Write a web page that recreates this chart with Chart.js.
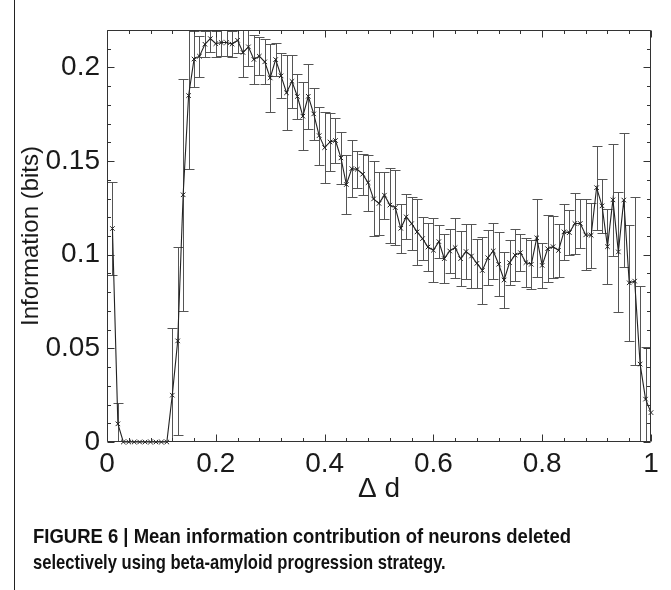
<!DOCTYPE html>
<html>
<head>
<meta charset="utf-8">
<script src="https://cdn.jsdelivr.net/npm/chart.js@4.4.1/dist/chart.umd.min.js"></script>
<style>
  html, body { margin: 0; padding: 0; background: #fff; }
  #wrap { position: relative; width: 671px; height: 590px; overflow: hidden; background: #fff; }
  #c { position: absolute; left: 0; top: 0; }
  #frame { position: absolute; left: 14px; top: 0; width: 1px; height: 590px; background: #222; }
  .cap { position: absolute; left: 33px; font-family: 'Liberation Sans', Arial, sans-serif; font-weight: bold; font-size: 21px; line-height: 26px; color: #111; white-space: nowrap; transform-origin: 0 50%; }
  #cap1 { top: 523px; transform: scaleX(0.88); }
  #cap2 { top: 549px; transform: scaleX(0.79); }
</style>
</head>
<body>
<div id="wrap">
  <canvas id="c" width="671" height="590"></canvas>
  <div id="frame"></div>
  <div class="cap" id="cap1">FIGURE 6 | Mean information contribution of neurons deleted</div>
  <div class="cap" id="cap2">selectively using beta-amyloid progression strategy.</div>
</div>
<script>
const deltaD = [0.01,0.02,0.03,0.04,0.05,0.06,0.07,0.08,0.09,0.10,
  0.11,0.12,0.13,0.14,0.15,0.16,0.17,0.18,0.19,0.20,
  0.21,0.22,0.23,0.24,0.25,0.26,0.27,0.28,0.29,0.30,
  0.31,0.32,0.33,0.34,0.35,0.36,0.37,0.38,0.39,0.40,
  0.41,0.42,0.43,0.44,0.45,0.46,0.47,0.48,0.49,0.50,
  0.51,0.52,0.53,0.54,0.55,0.56,0.57,0.58,0.59,0.60,
  0.61,0.62,0.63,0.64,0.65,0.66,0.67,0.68,0.69,0.70,
  0.71,0.72,0.73,0.74,0.75,0.76,0.77,0.78,0.79,0.80,
  0.81,0.82,0.83,0.84,0.85,0.86,0.87,0.88,0.89,0.90,
  0.91,0.92,0.93,0.94,0.95,0.96,0.97,0.98,0.99,1.00];

const info = [0.114,0.0097,0,0,0,0,0,0,0,0,
  0,0.025,0.054,0.132,0.185,0.2045,0.206,0.2124,0.2154,0.2127,
  0.2133,0.2133,0.2125,0.2145,0.208,0.211,0.2043,0.206,0.203,0.1944,
  0.2042,0.1955,0.1865,0.1926,0.1845,0.174,0.1846,0.1752,0.1636,0.1572,
  0.1602,0.161,0.1517,0.1375,0.146,0.1456,0.143,0.1385,0.1298,0.1274,
  0.1318,0.1265,0.1252,0.1141,0.1202,0.1166,0.1122,0.1086,0.1041,0.1024,
  0.107,0.0979,0.102,0.1038,0.0979,0.1017,0.0993,0.0954,0.0916,0.0984,
  0.102,0.0949,0.0865,0.0958,0.0998,0.1011,0.0958,0.0949,0.109,0.0943,
  0.1032,0.1043,0.1023,0.1122,0.1118,0.1167,0.1167,0.1106,0.1104,0.1358,
  0.1261,0.1043,0.1293,0.1015,0.1292,0.085,0.0859,0.0416,0.0229,0.0157];

const infoErr = [0.025,0.011,0,0,0,0,0,0,0,0,
  0,0.036,0.05,0.062,0.039,0.015,0.011,0.007,0.007,0.007,
  0.007,0.007,0.007,0.007,0.013,0.01,0.013,0.01,0.012,0.018,
  0.009,0.012,0.02,0.014,0.012,0.018,0.0175,0.014,0.0155,0.019,
  0.0156,0.012,0.014,0.0155,0.015,0.01,0.011,0.015,0.02,0.017,
  0.0125,0.02,0.02,0.013,0.012,0.014,0.0175,0.0115,0.013,0.017,
  0.009,0.013,0.012,0.016,0.0147,0.0146,0.017,0.013,0.018,0.0146,
  0.015,0.017,0.015,0.012,0.014,0.010,0.013,0.013,0.021,0.012,
  0.018,0.0165,0.014,0.015,0.012,0.0165,0.0133,0.019,0.0174,0.0225,
  0.0145,0.020,0.030,0.032,0.036,0.031,0.045,0.0416,0.028,0.035];

const xTickLabels = [0, 0.2, 0.4, 0.6, 0.8, 1];
const yTickLabels = [0, 0.05, 0.1, 0.15, 0.2];

const FONT = "'Liberation Sans', Arial, sans-serif";
const INK = '#1a1a1a';

const errorBars = {
  id: 'errorBars',
  beforeDatasetsDraw(chart) {
    const {ctx, chartArea: a, scales: {x, y}} = chart;
    ctx.save();
    ctx.beginPath();
    ctx.rect(a.left, a.top, a.right - a.left, a.bottom - a.top);
    ctx.clip();
    ctx.strokeStyle = '#555';
    ctx.lineWidth = 1;
    ctx.beginPath();
    for (let i = 0; i < deltaD.length; i++) {
      if (!infoErr[i]) continue;
      const px = Math.round(x.getPixelForValue(deltaD[i])) + 0.5;
      const yt = Math.round(y.getPixelForValue(info[i] + infoErr[i])) + 0.5;
      const yb = Math.round(y.getPixelForValue(info[i] - infoErr[i])) + 0.5;
      ctx.moveTo(px, yt); ctx.lineTo(px, yb);
      ctx.moveTo(px - 5, yt); ctx.lineTo(px + 5, yt);
      ctx.moveTo(px - 5, yb); ctx.lineTo(px + 5, yb);
    }
    ctx.stroke();
    ctx.restore();
  }
};

const boxTicks = {
  id: 'boxTicks',
  afterDraw(chart) {
    const {ctx, chartArea: a, scales: {x, y}} = chart;
    ctx.save();
    ctx.strokeStyle = '#333';
    ctx.lineWidth = 1;
    const L = Math.round(a.left) + 0.5, R = Math.round(a.right) - 0.5;
    const T = Math.round(a.top) + 0.5, B = Math.round(a.bottom) - 0.5;
    ctx.beginPath();
    ctx.rect(L, T, R - L, B - T);
    for (let k = 0; k <= 25; k++) {
      const v = k * 0.04;
      const major = xTickLabels.some(t => Math.abs(t - v) < 1e-9);
      const len = major ? 7 : 3.5;
      const px = Math.round(x.getPixelForValue(v)) + 0.5;
      ctx.moveTo(px, B); ctx.lineTo(px, B - len);
      ctx.moveTo(px, T); ctx.lineTo(px, T + len);
    }
    for (let k = 0; k <= 22; k++) {
      const v = k * 0.01;
      const major = k % 5 === 0;
      const len = major ? 7 : 3.5;
      const py = Math.round(y.getPixelForValue(v)) + 0.5;
      ctx.moveTo(L, py); ctx.lineTo(L + len, py);
      ctx.moveTo(R, py); ctx.lineTo(R - len, py);
    }
    ctx.stroke();
    ctx.restore();
  }
};

new Chart(document.getElementById('c'), {
  type: 'line',
  data: {
    datasets: [{
      data: deltaD.map((d, i) => ({x: d, y: info[i]})),
      borderColor: '#222',
      borderWidth: 1.1,
      pointStyle: 'crossRot',
      pointRadius: 3.2,
      pointBorderColor: '#222',
      pointBorderWidth: 1,
      pointBackgroundColor: '#222',
      tension: 0,
      clip: false
    }]
  },
  options: {
    animation: false,
    responsive: false,
    devicePixelRatio: 1,
    layout: { padding: { left: 0, top: 30, right: 20, bottom: 0 } },
    plugins: { legend: { display: false }, tooltip: { enabled: false } },
    scales: {
      x: {
        type: 'linear', min: 0, max: 1,
        grid: { display: false, drawTicks: false, tickLength: 0 }, border: { display: false },
        afterBuildTicks: s => { s.ticks = xTickLabels.map(v => ({value: v})); },
        afterFit: s => { s.height = 148; },
        ticks: { font: { family: FONT, size: 28 }, color: INK, padding: 5, maxRotation: 0,
                 callback: v => String(+(+v).toFixed(2)) },
        title: { display: true, text: 'Δ d', color: INK, font: { family: FONT, size: 28 }, padding: { top: 0, bottom: 84 } }
      },
      y: {
        type: 'linear', min: 0, max: 0.22,
        grid: { display: false, drawTicks: false, tickLength: 0 }, border: { display: false },
        afterBuildTicks: s => { s.ticks = yTickLabels.map(v => ({value: v})); },
        afterFit: s => { s.width = 107; },
        ticks: { font: { family: FONT, size: 28 }, color: INK, padding: 7,
                 callback: v => String(+(+v).toFixed(2)) },
        title: { display: true, text: 'Information (bits)', color: INK, font: { family: FONT, size: 24 }, padding: { top: 17, bottom: 0 } }
      }
    }
  },
  plugins: [errorBars, boxTicks]
});
</script>
</body>
</html>
